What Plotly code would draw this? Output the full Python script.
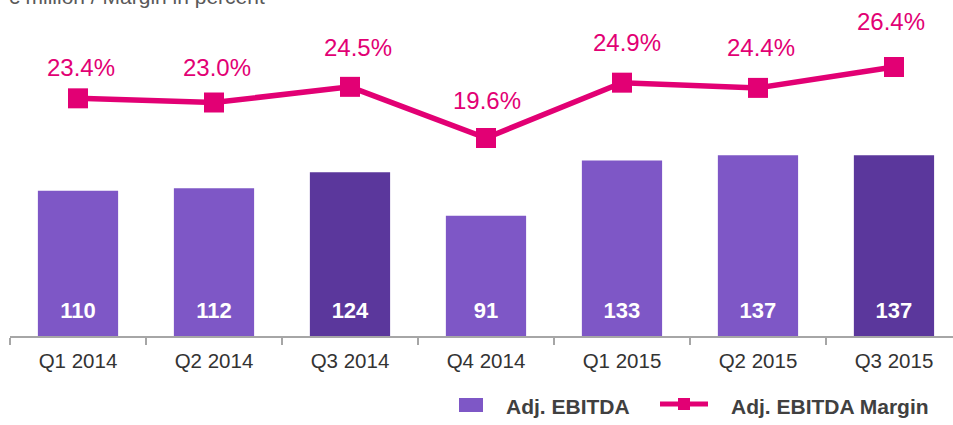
import plotly.graph_objects as go

categories = ["Q1 2014", "Q2 2014", "Q3 2014", "Q4 2014", "Q1 2015", "Q2 2015", "Q3 2015"]
ebitda = [110, 112, 124, 91, 133, 137, 137]
margin = [23.4, 23.0, 24.5, 19.6, 24.9, 24.4, 26.4]
bar_colors = ["#7E57C6", "#7E57C6", "#5B379C", "#7E57C6", "#7E57C6", "#7E57C6", "#5B379C"]
# pixel offsets of the margin labels relative to their markers (style)
label_yshift = [31, 35, 39, 37, 40, 40, 46]
label_xshift = [3, 3, 8, 1, 5, 3, -3]
MAGENTA = "#E20074"
LIGHT = "#7E57C6"
FONT = "Liberation Sans, Arial, sans-serif"

W, H = 953, 425
ML, MT, MB = 10, 0, 89
PW, PH = W - ML, H - MT - MB


def px(x):
    return (x - ML) / PW


def py(y):
    return (H - MB - y) / PH


fig = go.Figure()
fig.add_trace(go.Bar(
    x=categories, y=ebitda, name="Adj. EBITDA",
    marker=dict(color=bar_colors, line=dict(width=0)),
    width=0.59, showlegend=False, hoverinfo="x+y",
))
# bar value labels near the base
fig.add_trace(go.Scatter(
    x=categories, y=[18] * len(categories), mode="text",
    text=[str(v) for v in ebitda],
    textfont=dict(color="white", size=22, family=FONT, weight="bold"),
    showlegend=False, hoverinfo="skip",
))
fig.add_trace(go.Scatter(
    x=categories, y=margin, name="Adj. EBITDA Margin", yaxis="y2",
    mode="lines+markers",
    line=dict(color=MAGENTA, width=5.5),
    marker=dict(symbol="square", size=20, color=MAGENTA),
    showlegend=False,
))

for c, m, dy, dx in zip(categories, margin, label_yshift, label_xshift):
    fig.add_annotation(
        x=c, y=m, xref="x", yref="y2", text=f"{m:.1f}%",
        showarrow=False, yshift=dy, xshift=dx,
        font=dict(color=MAGENTA, size=24, family=FONT),
    )

# header (partly cut off at the top edge as in the reference)
fig.add_annotation(
    x=px(6), y=py(10), xref="paper", yref="paper", xanchor="left", yanchor="bottom",
    text="€ million / Margin in percent", showarrow=False,
    font=dict(color="#595959", size=21, family=FONT),
)

# manual legend
shapes = [
    dict(type="rect", xref="paper", yref="paper",
         x0=px(459), x1=px(483), y0=py(398), y1=py(412),
         fillcolor=LIGHT, line=dict(width=0)),
    dict(type="line", xref="paper", yref="paper",
         x0=px(660), x1=px(708), y0=py(404), y1=py(404),
         line=dict(color=MAGENTA, width=5)),
    dict(type="rect", xref="paper", yref="paper",
         x0=px(678), x1=px(690), y0=py(398), y1=py(410),
         fillcolor=MAGENTA, line=dict(width=0)),
]
fig.add_annotation(x=px(504), y=py(406), xref="paper", yref="paper",
                   xanchor="left", yanchor="middle", showarrow=False,
                   text="<b>Adj. EBITDA</b>",
                   font=dict(size=21, color="#404040", family=FONT))
fig.add_annotation(x=px(729), y=py(406), xref="paper", yref="paper",
                   xanchor="left", yanchor="middle", showarrow=False,
                   text="<b>Adj. EBITDA Margin</b>",
                   font=dict(size=21, color="#404040", family=FONT))

fig.update_layout(
    width=W, height=H,
    margin=dict(l=ML, r=0, t=MT, b=MB),
    plot_bgcolor="white", paper_bgcolor="white",
    font=dict(family=FONT, color="#404040"),
    shapes=shapes,
    xaxis=dict(
        range=[-0.5, 6.434], showgrid=False, zeroline=False,
        showline=True, linecolor="#A6A6A6", linewidth=2,
        ticks="outside", tickson="boundaries", ticklen=7, tickcolor="#A6A6A6", tickwidth=2,
        ticklabelstandoff=5,
        tickfont=dict(size=20.5, color="#333333", family=FONT),
    ),
    yaxis=dict(range=[0, 254.5], visible=False),
    yaxis2=dict(range=[0.63, 32.82], overlaying="y", visible=False),
    showlegend=False,
)

fig.write_html("out.html", config={"displayModeBar": False},
               post_script="document.body.style.margin='0';document.body.style.padding='0';")
